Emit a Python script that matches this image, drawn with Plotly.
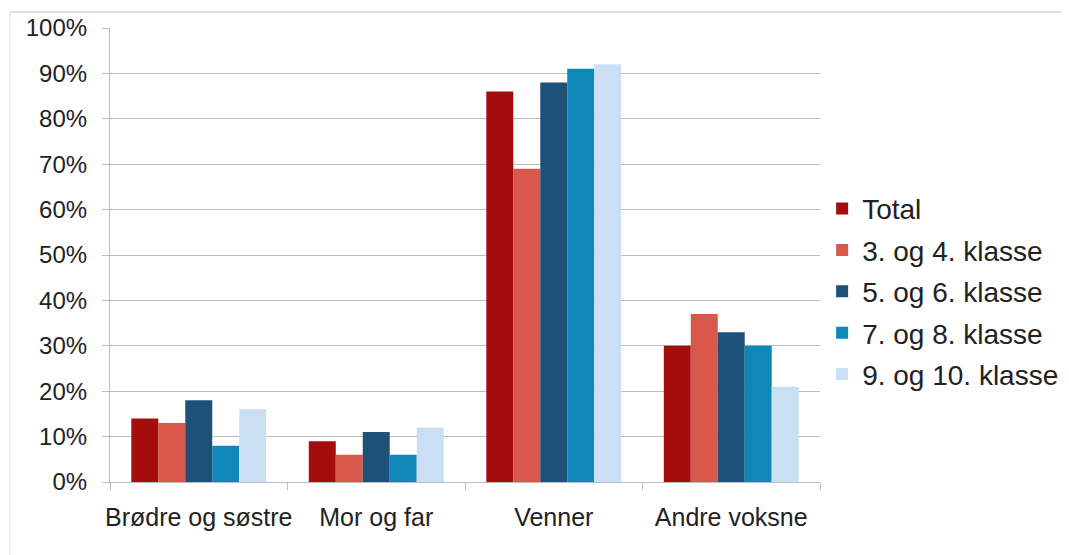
import plotly.graph_objects as go

categories = ["Brødre og søstre", "Mor og far", "Venner", "Andre voksne"]
series_names = ["Total", "3. og 4. klasse", "5. og 6. klasse", "7. og 8. klasse", "9. og 10. klasse"]
total = [14, 9, 86, 30]
k34 = [13, 6, 69, 37]
k56 = [18, 11, 88, 33]
k78 = [8, 6, 91, 30]
k910 = [16, 12, 92, 21]
colors = ["#A50D0D", "#D9574B", "#1D5178", "#0E87B9", "#CADFF3"]
tick_vals = [0, 10, 20, 30, 40, 50, 60, 70, 80, 90, 100]
tick_text = [f"{v}%" for v in tick_vals]

fig = go.Figure()
for i, (name, vals, col) in enumerate(zip(series_names, [total, k34, k56, k78, k910], colors)):
    fig.add_trace(go.Bar(x=categories, y=vals, name=name, marker_color=col,
                         marker_line_width=0, legendgroup=f"g{i}"))

fig.update_layout(
    width=1069, height=555,
    margin=dict(l=102, r=257, t=20, b=81, autoexpand=False),
    paper_bgcolor="white", plot_bgcolor="white",
    barmode="group", bargap=0.24, bargroupgap=0,
    font=dict(family="Liberation Sans, Arial, sans-serif", color="#222", size=24),
    legend=dict(x=1.003, y=0.42, yanchor="middle", xanchor="left",
                font=dict(size=28), itemwidth=30, tracegroupgap=2,
                traceorder="grouped"),
    showlegend=True,
)
fig.update_yaxes(range=[0, 100], tickvals=tick_vals, ticktext=tick_text,
                 showgrid=True, gridcolor="#BDBDBD", gridwidth=1.2,
                 showline=True, linecolor="#BDBDBD", linewidth=1.2,
                 ticks="outside", ticklen=7, tickcolor="#BDBDBD",
                 zeroline=False, tickfont=dict(size=24), ticklabelstandoff=10,
                 automargin=False)
fig.update_xaxes(showline=True, linecolor="#BDBDBD", linewidth=1.2,
                 ticks="outside", tickson="boundaries", ticklen=7,
                 tickcolor="#BDBDBD", tickfont=dict(size=25), ticklabelstandoff=13,
                 tickangle=0, automargin=False)
fig.add_shape(type="line", xref="paper", yref="paper", x0=-0.1408, x1=1.5,
              y0=1.0352, y1=1.0352, line=dict(color="#D5D5D5", width=1.5))
fig.add_shape(type="line", xref="paper", yref="paper", x0=-0.1408, x1=-0.1408,
              y0=1.0352, y1=-0.3, line=dict(color="#E2E2E2", width=1.2))

fig.write_html("out.html")
